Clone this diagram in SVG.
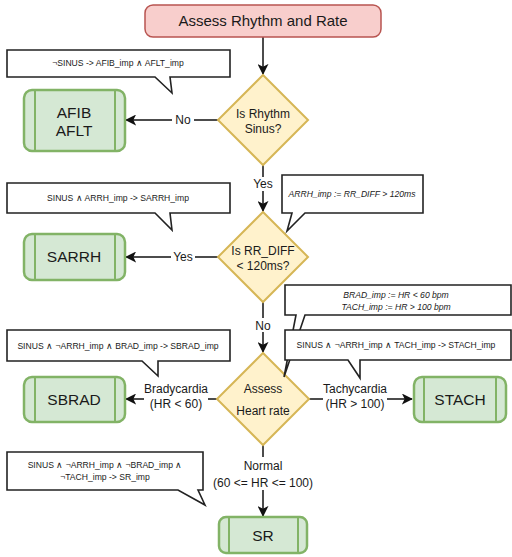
<svg xmlns="http://www.w3.org/2000/svg" width="512" height="557" viewBox="0 0 512 557">
  <style>
    text { font-family: "Liberation Sans", Arial, sans-serif; fill: #1a1a1a; }
    .start { fill: #f8cecc; stroke: #b85450; stroke-width: 1.5; }
    .decision { fill: #fff2cc; stroke: #d6b656; stroke-width: 2; }
    .proc { fill: #d5e8d4; stroke: #82b366; stroke-width: 2.5; }
    .proc-line { stroke: #82b366; stroke-width: 2; fill: none; }
    .note { fill: #ffffff; stroke: #222222; stroke-width: 1.6; }
    .edge { stroke: #111111; stroke-width: 1.5; fill: none; marker-end: url(#arrow); }
    .lbl { font-size: 12px; text-anchor: middle; }
    .lbl-bg { fill: #ffffff; }
    .title { font-size: 15px; text-anchor: middle; }
    .dtext { font-size: 12px; text-anchor: middle; }
    .ntext { font-size: 15.5px; text-anchor: middle; }
    .ctext { font-size: 8.6px; text-anchor: middle; }
    .itext { font-size: 8.6px; text-anchor: middle; font-style: italic; }
  </style>
  <defs>
    <marker id="arrow" viewBox="0 0 12 12" refX="11" refY="6" markerWidth="11" markerHeight="11" markerUnits="userSpaceOnUse" orient="auto">
      <path d="M0,0 L12,6 L0,12 L3,6 Z" fill="#111111"/>
    </marker>
  </defs>

  <!-- connectors -->
  <g id="connectors">
    <line class="edge" x1="263" y1="37" x2="263" y2="74"/>
    <line class="edge" x1="218" y1="120" x2="126" y2="120"/>
    <line class="edge" x1="263" y1="165" x2="263" y2="211"/>
    <line class="edge" x1="218" y1="257" x2="126" y2="257"/>
    <line class="edge" x1="263" y1="302" x2="263" y2="352"/>
    <line class="edge" x1="218" y1="399" x2="126" y2="399"/>
    <line class="edge" x1="308" y1="399" x2="412" y2="399"/>
    <line class="edge" x1="263" y1="445" x2="263" y2="516"/>
    <!-- edge labels -->
    <rect class="lbl-bg" x="172" y="112" width="22" height="15"/>
    <text class="lbl" x="183" y="124">No</text>
    <rect class="lbl-bg" x="251" y="177" width="24" height="14"/>
    <text class="lbl" x="263" y="188">Yes</text>
    <rect class="lbl-bg" x="171" y="250" width="24" height="14"/>
    <text class="lbl" x="183" y="261">Yes</text>
    <rect class="lbl-bg" x="252" y="318" width="22" height="14"/>
    <text class="lbl" x="263" y="330">No</text>
    <rect class="lbl-bg" x="144" y="383" width="64" height="30"/>
    <text class="lbl" x="176" y="393">Bradycardia</text>
    <text class="lbl" x="176" y="408">(HR &lt; 60)</text>
    <rect class="lbl-bg" x="323" y="383" width="64" height="30"/>
    <text class="lbl" x="355" y="393">Tachycardia</text>
    <text class="lbl" x="355" y="408">(HR &gt; 100)</text>
    <rect class="lbl-bg" x="212" y="457" width="102" height="33"/>
    <text class="lbl" x="263" y="470">Normal</text>
    <text class="lbl" x="263" y="487">(60 &lt;= HR &lt;= 100)</text>
  </g>

  <!-- start -->
  <g id="assess-rhythm-rate">
    <rect class="start" x="145" y="5" width="236" height="32" rx="8"/>
    <text class="title" x="263" y="26">Assess Rhythm and Rate</text>
  </g>

  <!-- decisions -->
  <g id="is-rhythm-sinus">
    <path class="decision" d="M263,75 L308,120 L263,165 L218,120 Z"/>
    <text class="dtext" x="263" y="118">Is Rhythm</text>
    <text class="dtext" x="263" y="133">Sinus?</text>
  </g>
  <g id="is-rr-diff">
    <path class="decision" d="M263,212 L308,257 L263,302 L218,257 Z"/>
    <text class="dtext" x="263" y="255">Is RR_DIFF</text>
    <text class="dtext" x="263" y="270">&lt; 120ms?</text>
  </g>
  <g id="assess-heart-rate">
    <path class="decision" d="M263,353 L309,399 L263,445 L217,399 Z"/>
    <text class="dtext" x="263" y="393">Assess</text>
    <text class="dtext" x="263" y="415">Heart rate</text>
  </g>

  <!-- outcomes -->
  <g id="afib-aflt">
    <rect class="proc" x="24" y="90" width="101" height="61" rx="8"/>
    <line class="proc-line" x1="35" y1="91" x2="35" y2="150"/>
    <line class="proc-line" x1="115" y1="91" x2="115" y2="150"/>
    <text class="ntext" x="74" y="118">AFIB</text>
    <text class="ntext" x="74" y="136">AFLT</text>
  </g>
  <g id="sarrh">
    <rect class="proc" x="24" y="234" width="101" height="46" rx="8"/>
    <line class="proc-line" x1="35" y1="235" x2="35" y2="279"/>
    <line class="proc-line" x1="115" y1="235" x2="115" y2="279"/>
    <text class="ntext" x="74" y="262">SARRH</text>
  </g>
  <g id="sbrad">
    <rect class="proc" x="24" y="377" width="101" height="45" rx="8"/>
    <line class="proc-line" x1="35" y1="378" x2="35" y2="421"/>
    <line class="proc-line" x1="115" y1="378" x2="115" y2="421"/>
    <text class="ntext" x="74" y="405">SBRAD</text>
  </g>
  <g id="stach">
    <rect class="proc" x="414" y="377" width="92" height="45" rx="8"/>
    <line class="proc-line" x1="424" y1="378" x2="424" y2="421"/>
    <line class="proc-line" x1="496" y1="378" x2="496" y2="421"/>
    <text class="ntext" x="460" y="405">STACH</text>
  </g>
  <g id="sr">
    <rect class="proc" x="219" y="517" width="88" height="36" rx="7"/>
    <line class="proc-line" x1="229" y1="518" x2="229" y2="552"/>
    <line class="proc-line" x1="298" y1="518" x2="298" y2="552"/>
    <text class="ntext" x="263" y="541">SR</text>
  </g>

  <!-- annotations -->
  <g id="note-afib">
    <path class="note" d="M7,50 L230,50 L230,77 L170,77 L172,93 L155,77 L7,77 Z"/>
    <text class="ctext" x="118" y="66">¬SINUS -&gt; AFIB_imp ∧ AFLT_imp</text>
  </g>
  <g id="note-sarrh">
    <path class="note" d="M7,183 L230,183 L230,213 L170,213 L172,230 L155,213 L7,213 Z"/>
    <text class="ctext" x="118" y="201">SINUS ∧ ARRH_imp -&gt; SARRH_imp</text>
  </g>
  <g id="note-arrh-def">
    <path class="note" d="M282,175 L423,175 L423,213 L305,213 L287,231 L292,213 L282,213 Z"/>
    <text class="itext" x="352" y="197">ARRH_imp := RR_DIFF &gt; 120ms</text>
  </g>
  <g id="note-rate-def">
    <path class="note" d="M285,285 L511,285 L511,315 L305,315 L284,377 L296,315 L285,315 Z"/>
    <text class="itext" x="396" y="298">BRAD_imp := HR &lt; 60 bpm</text>
    <text class="itext" x="396" y="310">TACH_imp := HR &gt; 100 bpm</text>
  </g>
  <g id="note-stach">
    <path class="note" d="M285,330 L511,330 L511,360 L360,360 L360,378 L348,360 L285,360 Z"/>
    <text class="ctext" x="396" y="348">SINUS ∧ ¬ARRH_imp ∧ TACH_imp -&gt; STACH_imp</text>
  </g>
  <g id="note-sbrad">
    <path class="note" d="M7,330 L230,330 L230,361 L158,361 L158,376 L142,361 L7,361 Z"/>
    <text class="ctext" x="118" y="349">SINUS ∧ ¬ARRH_imp ∧ BRAD_imp -&gt; SBRAD_imp</text>
  </g>
  <g id="note-sr">
    <path class="note" d="M7,452 L203,452 L203,490 L198,490 L205,505 L178,490 L7,490 Z"/>
    <text class="ctext" x="105" y="468">SINUS ∧ ¬ARRH_imp ∧ ¬BRAD_imp ∧</text>
    <text class="ctext" x="105" y="480">¬TACH_imp -&gt; SR_imp</text>
  </g>
</svg>
